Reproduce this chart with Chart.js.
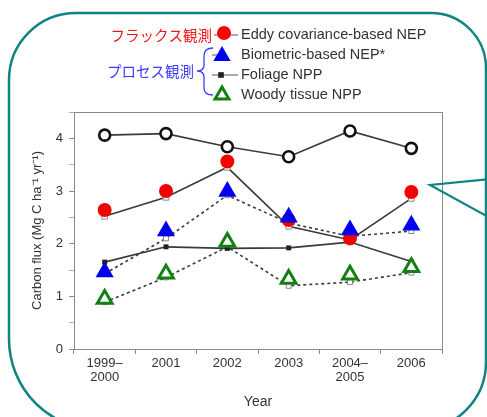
<!DOCTYPE html>
<html>
<head>
<meta charset="utf-8">
<script src="https://cdn.jsdelivr.net/npm/chart.js@4/dist/chart.umd.min.js"></script>
<style>
  html, body { margin: 0; padding: 0; background: #fff; }
  #wrap { width: 487px; height: 417px; position: relative; }
</style>
</head>
<body>
<div id="wrap"><canvas id="myChart" width="487" height="417"></canvas></div>
<script>
// Categories (x axis)
const years = [['1999–', '2000'], '2001', '2002', '2003', ['2004–', '2005'], '2006'];

// Series
const openCircle = [4.06, 4.09, 3.84, 3.65, 4.14, 3.81];
const eddyLine = [2.52, 2.88, 3.45, 2.33, 2.07, 2.86];
const eddyNEP = [2.64, 3.0, 3.56, 2.45, 2.1, 2.98];
const biometricLine = [1.43, 2.1, 2.92, 2.39, 2.14, 2.24];
const biometricNEP = [1.46, 2.24, 2.99, 2.5, 2.26, 2.35];
const foliageNPP = [1.65, 1.94, 1.91, 1.92, 2.03, 1.66];
const woodyLine = [0.89, 1.36, 1.94, 1.2, 1.27, 1.45];
const woodyNPP = [0.95, 1.43, 2.03, 1.33, 1.41, 1.55];

// Legend labels
const legendLabels = ['Eddy covariance-based NEP', 'Biometric-based NEP*', 'Foliage NPP', 'Woody tissue NPP'];
const fluxLabel = 'フラックス観測';
const processLabel = 'プロセス観測';

const teal = '#108383';
const axisGray = '#8a8a8a';
const textGray = '#333';

// Frame, box round plot, legend and callout pointer
const decorPlugin = {
    id: 'decor',
    beforeDraw(chart) {
        const ctx = chart.ctx;
        ctx.save();
        ctx.fillStyle = '#fff';
        ctx.fillRect(0, 0, chart.width, chart.height);
        ctx.strokeStyle = teal;
        ctx.lineWidth = 2.5;
        ctx.beginPath();
        ctx.roundRect(9, 13, 477, 417, [67, 55, 68, 91]);
        ctx.stroke();
        ctx.restore();
    },
    beforeDatasetsDraw(chart) {
        const { ctx, chartArea: a } = chart;
        ctx.save();
        ctx.strokeStyle = axisGray;
        ctx.lineWidth = 1;
        ctx.strokeRect(a.left + 0.5, a.top + 0.5, a.right - a.left, a.bottom - a.top);
        ctx.restore();
    },
    afterDraw(chart) {
        const ctx = chart.ctx;
        const h = Chart.helpers;
        ctx.save();

        // legend marker lines
        ctx.strokeStyle = '#555';
        ctx.lineWidth = 1.2;
        ctx.beginPath();
        ctx.moveTo(214, 35); ctx.lineTo(238, 35);
        ctx.moveTo(212, 55); ctx.lineTo(220, 55);
        ctx.moveTo(212, 75); ctx.lineTo(238, 75);
        ctx.stroke();

        // legend markers
        ctx.fillStyle = '#f00'; ctx.strokeStyle = '#f00';
        h.drawPoint(ctx, { pointStyle: 'circle', radius: 7, borderWidth: 0 }, 224, 33);
        ctx.fillStyle = '#0000ee'; ctx.strokeStyle = '#0000ee';
        h.drawPoint(ctx, { pointStyle: 'triangle', radius: 10, borderWidth: 0 }, 222, 56);
        ctx.fillStyle = '#222'; ctx.strokeStyle = '#222';
        h.drawPoint(ctx, { pointStyle: 'rect', radius: 4, borderWidth: 0 }, 221, 75);
        ctx.fillStyle = '#fff'; ctx.strokeStyle = '#138013'; ctx.lineWidth = 3;
        h.drawPoint(ctx, { pointStyle: 'triangle', radius: 8, borderWidth: 3 }, 222, 95);

        // legend texts
        ctx.fillStyle = textGray;
        ctx.font = '14.5px "Liberation Sans", Arial, sans-serif';
        ctx.textBaseline = 'middle';
        ctx.textAlign = 'left';
        legendLabels.forEach((t, i) => ctx.fillText(t, 241, 35 + i * 20));

        // Japanese annotations
        ctx.font = '14.5px "Noto Sans CJK JP", sans-serif';
        ctx.textAlign = 'right';
        ctx.fillStyle = '#f01414';
        ctx.fillText(fluxLabel, 212, 35);
        ctx.fillStyle = '#3b3bff';
        ctx.fillText(processLabel, 194, 71);

        // brace
        ctx.strokeStyle = '#3b3bff';
        ctx.lineWidth = 1.3;
        ctx.beginPath();
        ctx.moveTo(213, 48);
        ctx.quadraticCurveTo(204, 48, 204, 56);
        ctx.lineTo(204, 65);
        ctx.quadraticCurveTo(204, 71, 197, 71);
        ctx.quadraticCurveTo(204, 71, 204, 77);
        ctx.lineTo(204, 88);
        ctx.quadraticCurveTo(204, 95, 213, 95);
        ctx.stroke();

        // callout pointer on the right
        ctx.strokeStyle = teal;
        ctx.lineWidth = 2.2;
        ctx.beginPath();
        ctx.moveTo(490, 179);
        ctx.lineTo(430, 185);
        ctx.lineTo(490, 218);
        ctx.stroke();
        ctx.restore();
    }
};

function lineSet(data, dash, pointOpts, order) {
    return Object.assign({
        data: data,
        borderColor: '#3a3a3a',
        borderWidth: 1.6,
        borderDash: dash,
        tension: 0,
        order: order
    }, pointOpts);
}

function markerSet(data, pointOpts) {
    return Object.assign({ data: data, showLine: false, order: 0 }, pointOpts);
}

const ctx = document.getElementById('myChart').getContext('2d');
const myChart = new Chart(ctx, {
    type: 'line',
    data: {
        labels: years,
        datasets: [
            lineSet(openCircle, [], { pointStyle: 'circle', pointRadius: 5.5, pointBorderWidth: 2.6, pointBorderColor: '#111', pointBackgroundColor: '#fff' }, 1),
            lineSet(eddyLine, [], { pointStyle: 'rect', pointRadius: 4, pointBorderWidth: 1, pointBorderColor: '#888', pointBackgroundColor: '#fff' }, 3),
            lineSet(biometricLine, [3, 3], { pointStyle: 'rect', pointRadius: 3.5, pointBorderWidth: 1, pointBorderColor: '#888', pointBackgroundColor: '#fff' }, 4),
            lineSet(foliageNPP, [], { pointStyle: 'rect', pointRadius: 3.5, pointBorderWidth: 0, pointBackgroundColor: '#222' }, 2),
            lineSet(woodyLine, [3, 3], { pointStyle: 'rect', pointRadius: 3.5, pointBorderWidth: 1, pointBorderColor: '#888', pointBackgroundColor: '#fff' }, 5),
            markerSet(woodyNPP, { pointStyle: 'triangle', pointRadius: 8.5, pointBorderWidth: 3, pointBorderColor: '#138013', pointBackgroundColor: '#fff' }),
            markerSet(biometricNEP, { pointStyle: 'triangle', pointRadius: 10.5, pointBorderWidth: 0, pointBackgroundColor: '#0000ee' }),
            markerSet(eddyNEP, { pointStyle: 'circle', pointRadius: 7, pointBorderWidth: 0, pointBackgroundColor: '#f30000' })
        ]
    },
    options: {
        responsive: false,
        animation: false,
        events: [],
        layout: { padding: { top: 112, right: 45, left: 0, bottom: 0 } },
        plugins: { legend: { display: false }, tooltip: { enabled: false } },
        scales: {
            x: {
                offset: true,
                afterFit: (s) => { s.height = 68; },
                grid: { offset: true, drawOnChartArea: false, tickLength: 5, color: axisGray },
                border: { color: axisGray },
                ticks: {
                    color: textGray,
                    padding: 2,
                    maxRotation: 0,
                    autoSkip: false,
                    font: { family: '"Liberation Sans", Arial, sans-serif', size: 13, lineHeight: 1.1 }
                },
                title: {
                    display: true,
                    text: 'Year',
                    color: textGray,
                    padding: { bottom: 6, top: 0 },
                    font: { family: '"Liberation Sans", Arial, sans-serif', size: 14 }
                }
            },
            y: {
                min: 0,
                max: 4.5,
                afterFit: (s) => { s.width = 74; },
                grid: {
                    drawOnChartArea: false,
                    tickLength: 5,
                    tickColor: (c) => (Number.isInteger(c.tick.value) ? axisGray : '#b0b0b0')
                },
                border: { color: axisGray },
                ticks: {
                    stepSize: 0.5,
                    color: textGray,
                    padding: 6,
                    callback: (v) => (Number.isInteger(v) ? v : ''),
                    font: { family: '"Liberation Sans", Arial, sans-serif', size: 13 }
                },
                title: {
                    display: true,
                    text: 'Carbon flux (Mg C ha⁻¹ yr⁻¹)',
                    color: textGray,
                    padding: { top: 30, bottom: 0 },
                    font: { family: '"Liberation Sans", Arial, sans-serif', size: 13 }
                }
            }
        }
    },
    plugins: [decorPlugin]
});
</script>
</body>
</html>
